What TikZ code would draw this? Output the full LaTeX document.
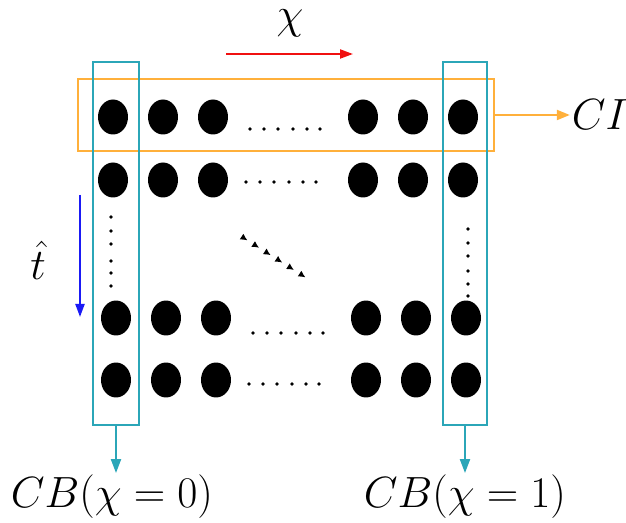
\documentclass[tikz,border=0pt]{standalone}
\usepackage{tikz}
\usetikzlibrary{shapes.geometric, arrows.meta, positioning, fit, calc}
\usepackage{xcolor}
\definecolor{cbline}{HTML}{2BA6B8}
\definecolor{ciline}{HTML}{FFB03B}
\definecolor{chiline}{HTML}{F01010}
\definecolor{tline}{HTML}{1A1AF5}
\tikzset{
    site/.style={
        ellipse, fill=black, minimum width=0.6cm, minimum height=0.7cm, inner sep=0pt
    },
    cbbox/.style={
        rectangle, draw=cbline, line width=1.3pt, inner sep=0pt
    },
    cibox/.style={
        rectangle, draw=ciline, line width=1.3pt, inner sep=0pt
    },
    mathlabel/.style={
        font=\fontsize{23}{27}\selectfont, inner sep=1pt
    },
    cbarrow/.style={
        -{Triangle[length=0.28cm, width=0.2cm]}, draw=cbline, fill=cbline, line width=1.2pt
    },
    ciarrow/.style={
        -{Triangle[length=0.26cm, width=0.2cm]}, draw=ciline, fill=ciline, line width=1.2pt
    },
    dirarrow/.style={
        -{Triangle[length=0.26cm, width=0.18cm]}, line width=1.2pt
    },
    ellip/.style={
        fill=black
    }
}

\begin{document}
\begin{tikzpicture}[x=0.02cm, y=-0.02cm]
    \useasboundingbox (0,0) rectangle (626,523);

    % ── Sites ──
    \foreach \r/\y/\s in {1/117/0, 2/180/0, 3/318/3, 4/380/3} {
        \foreach \c/\x in {1/113, 2/163, 3/213, 4/363, 5/413, 6/463} {
            \node[site] (s\r\c) at (\x+\s, \y) {};
        }
    }

    % ── Dotted gaps ──
    \foreach \x/\y in {250/129, 246/182, 253/333, 249/384} {
        \foreach \dx in {0, 14, 28, 43, 57, 70} {
            \fill[ellip] (\x+\dx, \y) circle (0.038cm);
        }
    }
    \foreach \y in {217, 231, 244, 261, 273, 286} {
        \fill[ellip] (111, \y) circle (0.038cm);
    }
    \foreach \y in {229, 243, 256, 271, 284, 296} {
        \fill[ellip] (468, \y) circle (0.038cm);
    }
    \foreach \i in {0,...,5} {
        \draw[-{Latex[length=0.14cm, width=0.14cm]}, line width=0.8pt]
            ({243+\i*11.6}, {237.5+\i*7.4}) -- ++(4.5, 2.9);
    }

    % ── Boxes ──
    \node[cibox, minimum width=8.32cm, minimum height=1.44cm] (ci)  at (286, 115) {};
    \node[cbbox, minimum width=0.92cm, minimum height=7.26cm] (cbl) at (116, 243.5) {};
    \node[cbbox, minimum width=0.89cm, minimum height=7.26cm] (cbr) at (465, 243.5) {};

    % ── Labels ──
    \node[mathlabel] (chi)  at (290, 23)  {$\chi$};
    \node[mathlabel] (that) at (38, 260)  {$\hat{t}$};
    \node[mathlabel] (cilab) at (600, 115) {$CI$};
    \node[mathlabel] (cb0)  at (112, 497) {$CB(\chi=0)$};
    \node[mathlabel] (cb1)  at (465, 497) {$CB(\chi=1)$};

    \coordinate (chiA) at (226, 54);
    \coordinate (chiB) at (353, 54);
    \coordinate (tA)   at (80, 195);
    \coordinate (tB)   at (80, 317);

    % ── Arrows ──
    \draw[dirarrow, draw=chiline, fill=chiline] (chiA) -- (chiB);
    \draw[dirarrow, draw=tline, fill=tline]     (tA)   -- (tB);
    \draw[ciarrow] (ci.east)  -- (cilab.west);
    \draw[cbarrow] (cbl.south) -- (cbl.south |- cb0.north);
    \draw[cbarrow] (cbr.south) -- (cbr.south |- cb1.north);

\end{tikzpicture}
\end{document}
